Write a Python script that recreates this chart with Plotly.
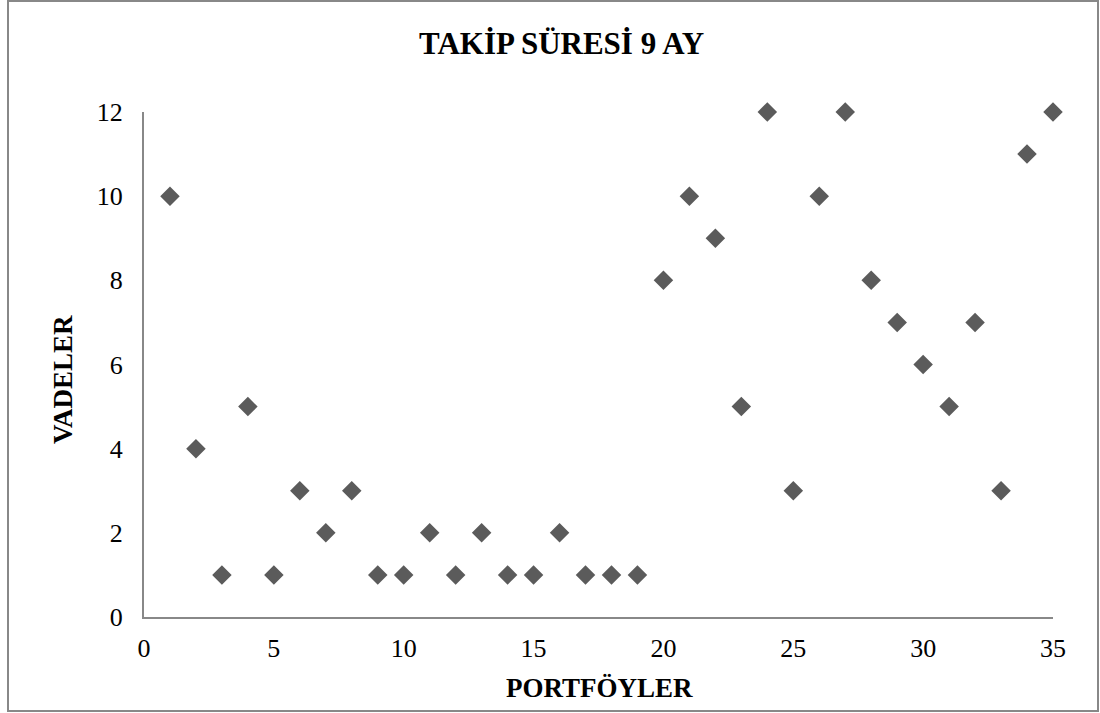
import plotly.graph_objects as go

portfolios = list(range(1, 36))
vadeler = [10, 4, 1, 5, 1, 3, 2, 3, 1, 1, 2, 1, 2, 1, 1, 2, 1, 1, 1,
           8, 10, 9, 5, 12, 3, 10, 12, 8, 7, 6, 5, 7, 3, 11, 12]
x_ticks = [0, 5, 10, 15, 20, 25, 30, 35]
y_ticks = [0, 2, 4, 6, 8, 10, 12]

FONT = "Liberation Serif, Times New Roman, serif"
W, H = 1100, 713
L, R, T, B = 144, 47, 112, 96
pw, ph = W - L - R, H - T - B

fig = go.Figure(go.Scatter(
    x=portfolios, y=vadeler, mode="markers",
    marker=dict(symbol="diamond", size=15, color="#5b5b5b", line=dict(width=0)),
    cliponaxis=False,
))

axis_common = dict(showgrid=False, zeroline=False, showline=True, linecolor="#888888", linewidth=2,
                   ticks="outside", tickcolor="rgba(0,0,0,0)",
                   tickfont=dict(family=FONT, size=26, color="black"))

fig.update_layout(
    width=W, height=H,
    margin=dict(l=L, r=R, t=T, b=B),
    paper_bgcolor="white", plot_bgcolor="white",
    showlegend=False,
    xaxis=dict(range=[0, 35], tickvals=x_ticks, ticklen=7, **axis_common),
    yaxis=dict(range=[0, 12], tickvals=y_ticks, ticklen=14, **axis_common),
    annotations=[
        dict(text="<b>TAKİP SÜRESİ 9 AY</b>", xref="paper", yref="paper",
             x=(561 - L) / pw, y=(H - B - 43) / ph, showarrow=False,
             font=dict(family=FONT, size=31, color="black"), xanchor="center", yanchor="middle"),
        dict(text="<b>PORTFÖYLER</b>", xref="paper", yref="paper",
             x=(599 - L) / pw, y=(H - B - 688) / ph, showarrow=False,
             font=dict(family=FONT, size=27, color="black"), xanchor="center", yanchor="middle"),
        dict(text="<b>VADELER</b>", xref="paper", yref="paper", textangle=-90,
             x=(63 - L) / pw, y=(H - B - 380) / ph, showarrow=False,
             font=dict(family=FONT, size=27, color="black"), xanchor="center", yanchor="middle"),
    ],
    shapes=[dict(type="rect", xref="paper", yref="paper",
                 x0=(8 - L) / pw, x1=(1098 - L) / pw,
                 y0=(H - B - 711) / ph, y1=(H - B - 1) / ph,
                 line=dict(color="#888888", width=2), fillcolor="rgba(0,0,0,0)", layer="below")],
)

fig.write_html("out.html")
